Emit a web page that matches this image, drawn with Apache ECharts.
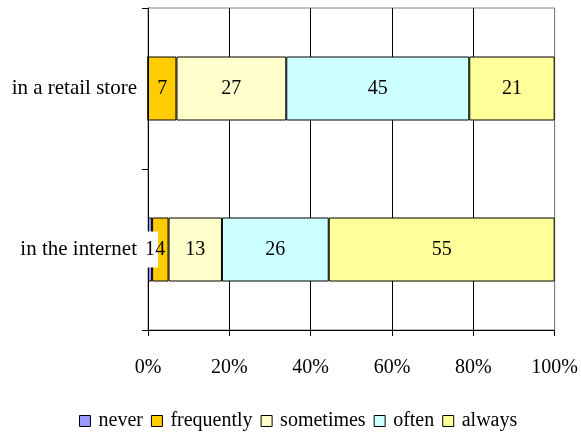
<!DOCTYPE html>
<html>
<head>
<meta charset="utf-8">
<script src="https://cdn.jsdelivr.net/npm/echarts@6/dist/echarts.min.js"></script>
<style>
html,body{margin:0;padding:0;background:#fff;}
#chart{width:581px;height:432px;}
</style>
</head>
<body>
<div id="chart"></div>
<script>
const categories = ['in the internet', 'in a retail store'];
const seriesNames = ['never', 'frequently', 'sometimes', 'often', 'always'];
const never = [1, 0];
const frequently = [4, 7];
const sometimes = [13, 27];
const often = [26, 45];
const always = [55, 21];
const xTicks = [0, 20, 40, 60, 80, 100];

const colors = ['#9999FF', '#FFCC00', '#FFFFCC', '#CCFFFF', '#FFFF99'];
const values = [never, frequently, sometimes, often, always];
const FONT = 'Liberation Serif, Times New Roman, serif';

// 100% stacked: normalise each category by its total
const totals = categories.map((c, j) => values.reduce((s, arr) => s + arr[j], 0));

const chart = echarts.init(document.getElementById('chart'), null, {renderer: 'canvas'});
const series = seriesNames.map((name, i) => ({
  name: name,
  type: 'bar',
  stack: 'total',
  barWidth: 64,
  data: values[i].map((v, j) => {
    const item = {value: v / totals[j] * 100, raw: v};
    if (v === 0) item.label = {show: false};
    else if (i === 0) item.label = {backgroundColor: '#fff', padding: [8, 3, 8, 3]};
    return item;
  }),
  itemStyle: {color: colors[i], borderColor: '#000', borderWidth: 1},
  label: {
    show: true,
    position: 'inside',
    color: '#000',
    fontFamily: FONT,
    fontSize: 20,
    formatter: p => String(p.data.raw)
  },
  emphasis: {disabled: true},
  animation: false
}));

chart.setOption({
  animation: false,
  grid: {left: 148, right: 25, top: 8, bottom: 102, show: true, borderColor: '#808080', borderWidth: 1},
  legend: {
    data: seriesNames,
    left: 74,
    top: 406,
    itemWidth: 11,
    itemHeight: 11,
    itemGap: 8,
    icon: 'rect',
    textStyle: {fontFamily: FONT, fontSize: 20, color: '#000', padding: [0, 0, 0, 3]},
    itemStyle: {borderColor: '#000', borderWidth: 1}
  },
  xAxis: {
    type: 'value',
    min: xTicks[0],
    max: xTicks[xTicks.length - 1],
    interval: 20,
    axisLine: {show: true, lineStyle: {color: '#000', width: 1}},
    axisTick: {show: true, length: 6, lineStyle: {color: '#000'}},
    axisLabel: {fontFamily: FONT, fontSize: 20, color: '#000', margin: 28, formatter: '{value}%'},
    splitLine: {show: true, lineStyle: {color: ['#000', '#000', '#000', '#000', '#000', '#808080'], width: 1}}
  },
  yAxis: {
    type: 'category',
    data: categories,
    axisLine: {show: true, lineStyle: {color: '#000', width: 1}},
    axisTick: {show: true, length: 6, lineStyle: {color: '#000'}},
    axisLabel: {fontFamily: FONT, fontSize: 21, color: '#000', margin: 11},
    splitLine: {show: false}
  },
  series: series
});
</script>
</body>
</html>
